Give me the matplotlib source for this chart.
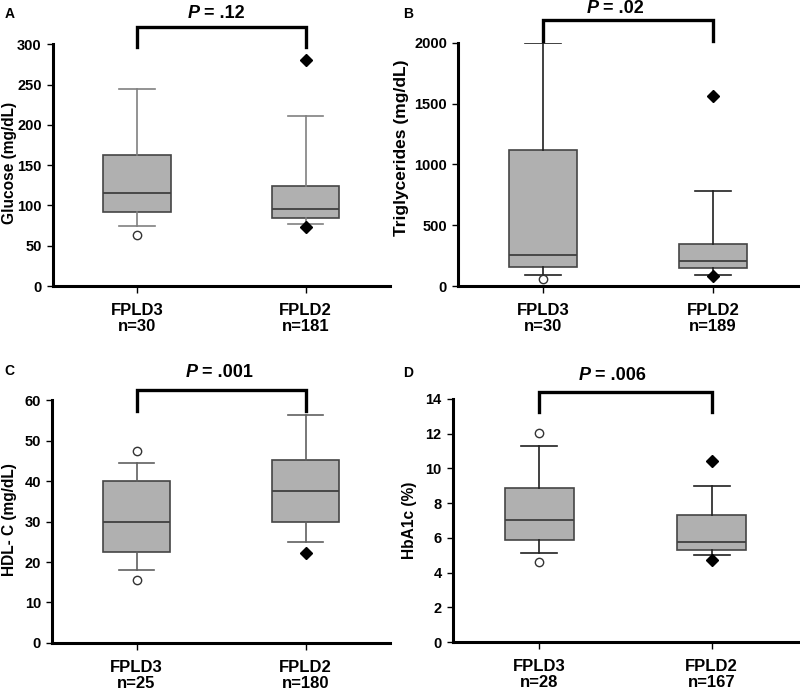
import matplotlib
matplotlib.use("Agg")
import matplotlib.pyplot as plt
import matplotlib.transforms as mtransforms

plt.rcParams['font.family'] = ['Liberation Sans', 'DejaVu Sans']
plt.rcParams['font.weight'] = 'bold'

groups = ["FPLD3", "FPLD2"]

# Panel A: Glucose
glu_n = [30, 181]
glu_q1 = [92, 85]
glu_med = [115, 95]
glu_q3 = [163, 124]
glu_wlo = [75, 77]
glu_whi = [245, 211]
glu_fliers = [[63], [280, 73]]

# Panel B: Triglycerides
tg_n = [30, 189]
tg_q1 = [160, 150]
tg_med = [255, 210]
tg_q3 = [1120, 350]
tg_wlo = [90, 90]
tg_whi = [2000, 780]
tg_fliers = [[58], [1560, 80]]

# Panel C: HDL-C
hdl_n = [25, 180]
hdl_q1 = [22.5, 30.0]
hdl_med = [30.0, 37.5]
hdl_q3 = [40.0, 45.2]
hdl_wlo = [18.0, 25.0]
hdl_whi = [44.5, 56.3]
hdl_fliers = [[47.5, 15.5], [22.3]]

# Panel D: HbA1c
a1c_n = [28, 167]
a1c_q1 = [5.85, 5.3]
a1c_med = [7.05, 5.75]
a1c_q3 = [8.9, 7.3]
a1c_wlo = [5.1, 5.0]
a1c_whi = [11.3, 9.0]
a1c_fliers = [[12.05, 4.6], [10.4, 4.75]]

panels = [
    dict(letter="A", ylabel="Glucose (mg/dL)", n=glu_n, q1=glu_q1, med=glu_med, q3=glu_q3,
         wlo=glu_wlo, whi=glu_whi, fl=glu_fliers, p=".12", ylim=300, step=50,
         rect=[0.066, 0.586, 0.4215, 0.350], brk=(1.07, 0.988), ptxt=1.128, pxc=1.37,
         wcol="#808080", lx=0.006, ly=0.990, ylc=(-0.105, 0.51), yfs=11.2),
    dict(letter="B", ylabel="Triglycerides (mg/dL)", n=tg_n, q1=tg_q1, med=tg_med, q3=tg_q3,
         wlo=tg_wlo, whi=tg_whi, fl=tg_fliers, p=".02", ylim=2000, step=500,
         rect=[0.5725, 0.586, 0.425, 0.352], brk=(1.095, 1.008), ptxt=1.140, pxc=1.33,
         wcol="#202020", lx=0.504, ly=0.990, ylc=(-0.145, 0.57), yfs=12.5),
    dict(letter="C", ylabel="HDL- C (mg/dL)", n=hdl_n, q1=hdl_q1, med=hdl_med, q3=hdl_q3,
         wlo=hdl_wlo, whi=hdl_whi, fl=hdl_fliers, p=".001", ylim=60, step=10,
         rect=[0.065, 0.0695, 0.4225, 0.3515], brk=(1.041, 0.955), ptxt=1.115, pxc=1.36,
         wcol="#606060", lx=0.006, ly=0.473, ylc=(-0.105, 0.51), yfs=11.2),
    dict(letter="D", ylabel="HbA1c (%)", n=a1c_n, q1=a1c_q1, med=a1c_med, q3=a1c_q3,
         wlo=a1c_wlo, whi=a1c_whi, fl=a1c_fliers, p=".006", ylim=14, step=2,
         rect=[0.566, 0.0709, 0.4315, 0.3517], brk=(1.029, 0.947), ptxt=1.095, pxc=1.30,
         wcol="#202020", lx=0.504, ly=0.471, ylc=(-0.105, 0.50), yfs=11.2),
]

fig = plt.figure(figsize=(8.0, 6.91), dpi=100)

for pn in panels:
    ax = fig.add_axes(pn["rect"])
    for i in range(2):
        st = dict(med=pn["med"][i], q1=pn["q1"][i], q3=pn["q3"][i],
                  whislo=pn["wlo"][i], whishi=pn["whi"][i], fliers=pn["fl"][i])
        if i == 0:
            fprops = dict(marker='o', markerfacecolor='white', markeredgecolor='#333333',
                          markersize=6, markeredgewidth=1.0, linestyle='none')
        else:
            fprops = dict(marker='D', markerfacecolor='black', markeredgecolor='black',
                          markersize=6, linestyle='none')
        ax.bxp([st], positions=[i + 1], widths=0.4, patch_artist=True,
               showfliers=True, manage_ticks=False,
               boxprops=dict(facecolor='#b0b0b0', edgecolor='#454545', linewidth=1.2),
               medianprops=dict(color='#404040', linewidth=1.3),
               whiskerprops=dict(color=pn["wcol"], linewidth=1.2),
               capprops=dict(color=pn["wcol"], linewidth=1.2),
               capwidths=0.21, flierprops=fprops)
    ax.set_xlim(0.5, 2.5)
    ax.set_ylim(0, pn["ylim"])
    ax.set_yticks([k * pn["step"] for k in range(int(round(pn["ylim"] / pn["step"])) + 1)])
    ax.set_xticks([1, 2])
    ax.set_xticklabels([f"{g}\nn={n}" for g, n in zip(groups, pn["n"])],
                       fontsize=12, fontweight='bold', linespacing=1.1)
    for lab in ax.get_yticklabels():
        lab.set_fontsize(10.5)
        lab.set_fontweight('bold')
    ax.tick_params(axis='y', length=4, width=1, pad=4)
    ax.tick_params(axis='x', length=5, width=1, pad=7)
    for s in ['top', 'right']:
        ax.spines[s].set_visible(False)
    for s in ['left', 'bottom']:
        ax.spines[s].set_linewidth(2.2)
    ax.set_ylabel(pn["ylabel"], fontsize=pn["yfs"], fontweight='bold')
    ax.yaxis.set_label_coords(*pn["ylc"])

    # significance bracket
    trans = mtransforms.blended_transform_factory(ax.transData, ax.transAxes)
    top, bot = pn["brk"]
    ax.plot([1, 1, 2, 2], [bot, top, top, bot], color='black', linewidth=2.4,
            transform=trans, clip_on=False, solid_joinstyle='miter')
    xc = pn["pxc"]
    ax.text(xc, pn["ptxt"], "P", transform=trans, ha='right', va='center',
            fontsize=13, fontweight='bold', fontstyle='italic')
    t2 = mtransforms.offset_copy(trans, fig=fig, x=3, y=0, units='points')
    ax.text(xc, pn["ptxt"], "= " + pn["p"], transform=t2, ha='left', va='center',
            fontsize=13, fontweight='bold')

    fig.text(pn["lx"], pn["ly"], pn["letter"], ha='left', va='top',
             fontsize=10, fontweight='bold')

fig.savefig("out.png", dpi=100)
